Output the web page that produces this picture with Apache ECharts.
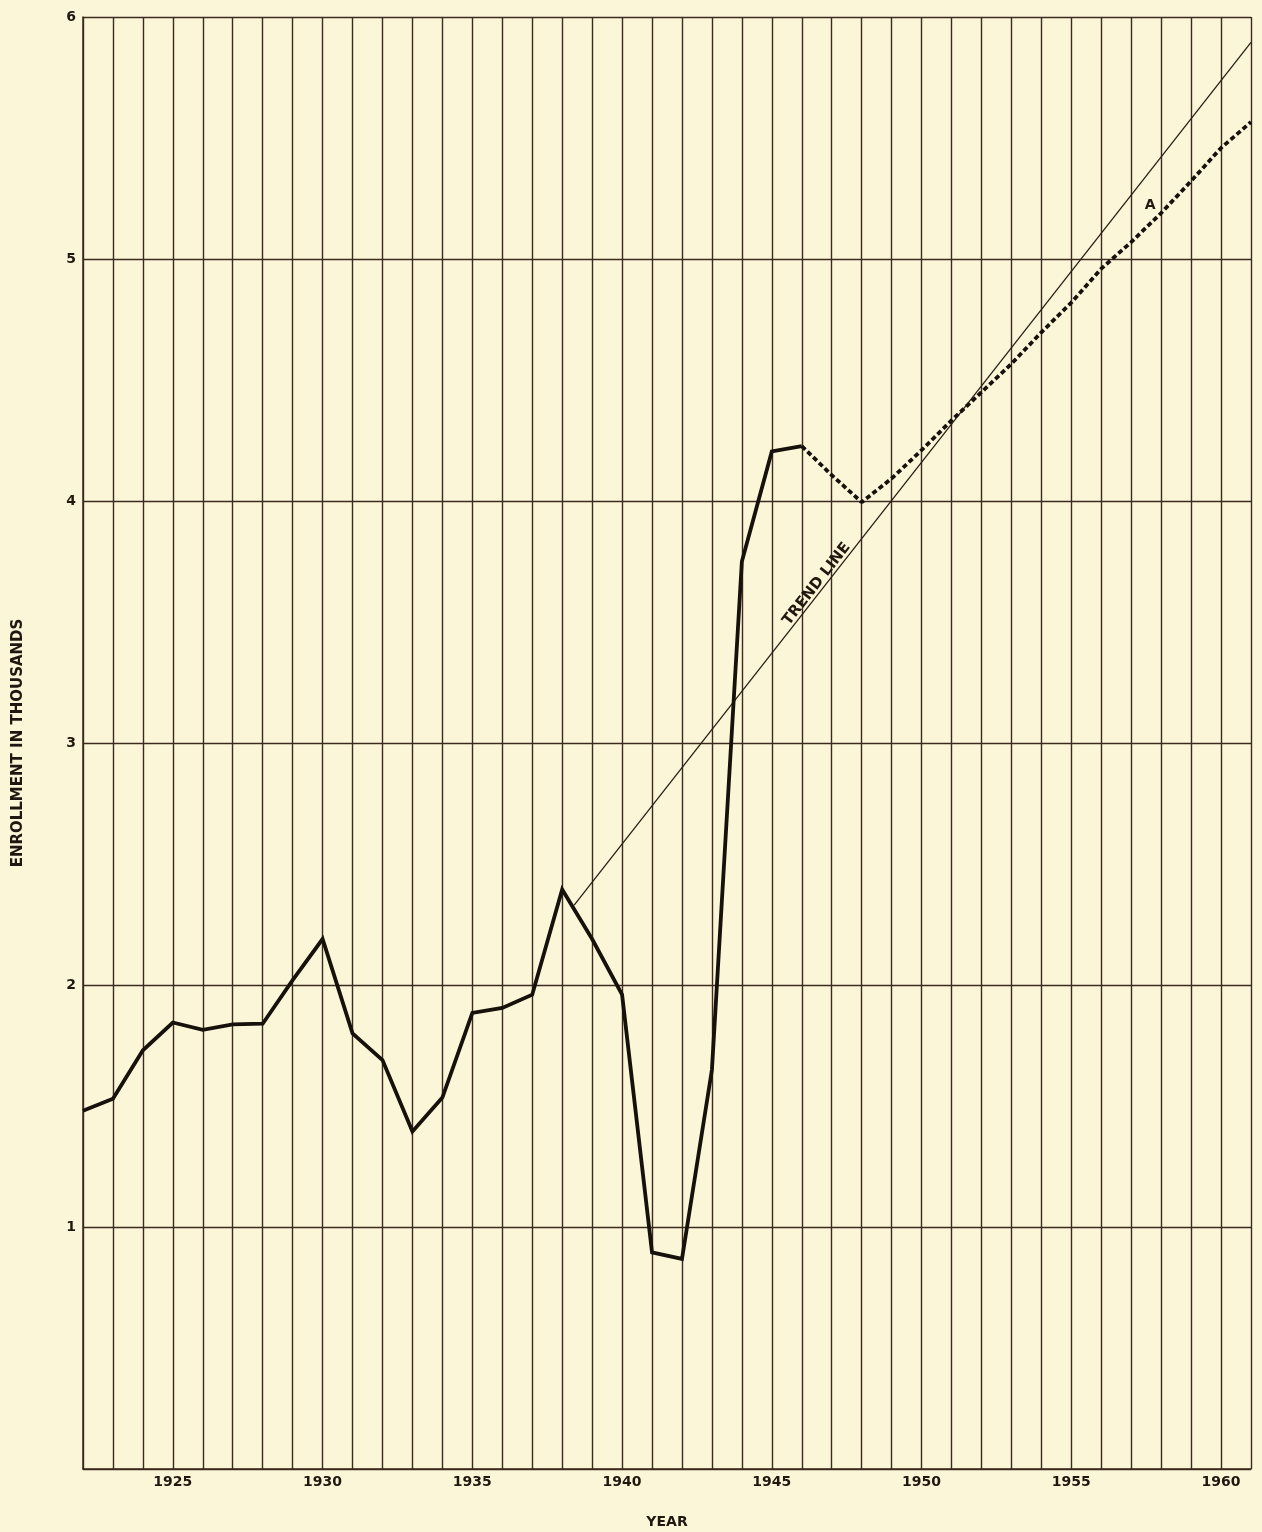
<!DOCTYPE html>
<html>
<head>
<meta charset="utf-8">
<script src="https://cdn.jsdelivr.net/npm/echarts@6/dist/echarts.min.js"></script>
<style>
  html, body { margin: 0; padding: 0; background: #fcf6d9; }
  #chart { width: 1262px; height: 1532px; }
</style>
</head>
<body>
<div id="chart"></div>
<script>
// ---- data ----
const enrollmentYears = [1922,1923,1924,1925,1926,1927,1928,1929,1930,1931,1932,1933,1934,1935,1936,1937,1938,1939,1940,1941,1942,1943,1944,1945,1946];
const enrollment      = [1.48,1.53,1.73,1.845,1.815,1.837,1.84,2.02,2.19,1.80,1.69,1.395,1.535,1.885,1.905,1.96,2.395,2.19,1.96,0.895,0.868,1.65,3.75,4.205,4.227];

const projectionYears = [1946,1947,1948,1949,1950,1951,1952,1953,1954,1955,1956,1957,1958,1959,1960,1961];
const projection      = [4.227,4.107,3.995,4.093,4.21,4.333,4.45,4.567,4.697,4.82,4.96,5.07,5.19,5.322,5.459,5.566];

const trendYears  = [1938.4, 1961];
const trendValues = [2.33, 5.895];

const annotationTexts  = ['TREND LINE', 'A'];
const annotationYears  = [1946.5, 1957.63];
const annotationValues = [3.657, 5.22];

const xLabelYears = [1925,1930,1935,1940,1945,1950,1955,1960];
const yLabelValues = [1,2,3,4,5,6];

// ---- chart ----
const ink = '#22170f';
const gridInk = '#3b2a1e';
const font = 'DejaVu Sans';

const pairs = (xs, ys) => xs.map((x, i) => [x, ys[i]]);

const chart = echarts.init(document.getElementById('chart'), null, { renderer: 'canvas' });
chart.setOption({
  backgroundColor: '#fcf6d9',
  animation: false,
  grid: { left: 83, right: 11, top: 17, bottom: 63, containLabel: false, outerBoundsMode: 'none' },
  xAxis: {
    type: 'value',
    min: 1922, max: 1961, interval: 1,
    name: 'YEAR',
    nameLocation: 'middle',
    nameGap: 46,
    nameTextStyle: { fontFamily: font, fontWeight: 'bold', fontSize: 14, color: ink },
    axisLine: { show: true, lineStyle: { color: gridInk, width: 1.5 } },
    axisTick: { show: false },
    splitLine: { show: true, lineStyle: { color: gridInk, width: 1.4 } },
    axisLabel: {
      margin: 6,
      fontFamily: font, fontWeight: 'bold', fontSize: 14, color: ink,
      formatter: v => xLabelYears.includes(v) ? String(v) : ''
    }
  },
  yAxis: {
    type: 'value',
    min: 0, max: 6, interval: 1,
    name: 'ENROLLMENT IN THOUSANDS',
    nameLocation: 'middle',
    nameRotate: 90,
    nameGap: 57,
    nameTextStyle: { fontFamily: font, fontWeight: 'bold', fontSize: 15, color: ink },
    axisLine: { show: true, lineStyle: { color: gridInk, width: 1.5 } },
    axisTick: { show: false },
    splitLine: { show: true, lineStyle: { color: gridInk, width: 1.4 } },
    axisLabel: {
      margin: 7,
      fontFamily: font, fontWeight: 'bold', fontSize: 14, color: ink,
      formatter: v => yLabelValues.includes(v) ? String(v) : ''
    }
  },
  series: [
    {
      name: 'Trend',
      type: 'line',
      data: pairs(trendYears, trendValues),
      symbol: 'none',
      lineStyle: { color: '#2a1d14', width: 1.3 },
      z: 3
    },
    {
      name: 'Enrollment',
      type: 'line',
      data: pairs(enrollmentYears, enrollment),
      symbol: 'none',
      lineStyle: { color: '#17110c', width: 3.8, join: 'miter' },
      z: 5
    },
    {
      name: 'Projection A',
      type: 'line',
      data: pairs(projectionYears, projection),
      symbol: 'none',
      lineStyle: { color: '#17110c', width: 3.8, type: [5, 3] },
      z: 5
    },
    {
      name: 'Annotations',
      type: 'scatter',
      symbolSize: 1,
      itemStyle: { opacity: 0 },
      data: annotationTexts.map((t, i) => ({
        name: t,
        value: [annotationYears[i], annotationValues[i]],
        label: t === 'TREND LINE' ? { rotate: 52, fontSize: 15 } : { rotate: 0, fontSize: 14 }
      })),
      label: {
        show: true,
        position: 'inside',
        align: 'center',
        verticalAlign: 'middle',
        opacity: 1,
        fontFamily: font, fontWeight: 'bold', color: ink,
        formatter: p => p.name
      },
      z: 6
    }
  ]
});
</script>
</body>
</html>
